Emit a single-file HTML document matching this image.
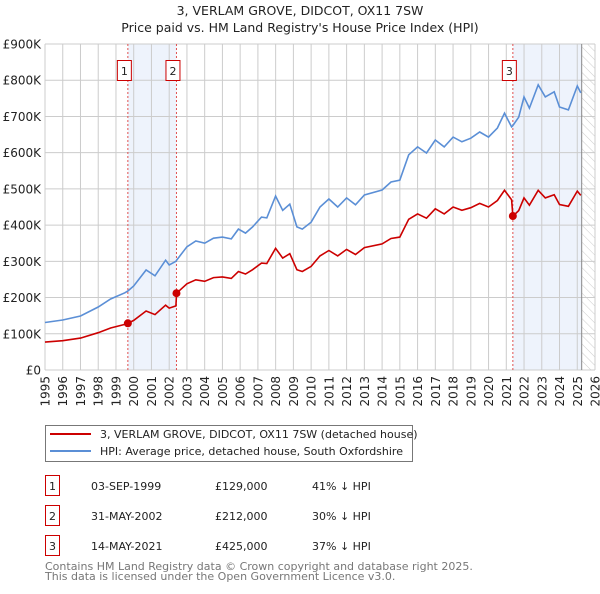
<!DOCTYPE html>
<html><head><meta charset="utf-8"><style>
body{margin:0;background:#fff;font-family:"DejaVu Sans","Liberation Sans",sans-serif;}
svg text{font-family:"DejaVu Sans","Liberation Sans",sans-serif;}
</style></head><body>
<svg id="chart" width="600" height="590" xmlns="http://www.w3.org/2000/svg">
<defs><pattern id="hatch" width="6" height="6" patternUnits="userSpaceOnUse" patternTransform="rotate(-45)"><line x1="0" y1="0" x2="0" y2="6" stroke="#ccc" stroke-width="1"/></pattern></defs>
<text x="300" y="15" text-anchor="middle" font-size="12.5" fill="#222">3, VERLAM GROVE, DIDCOT, OX11 7SW</text>
<text x="300" y="32" text-anchor="middle" font-size="12.5" fill="#222">Price paid vs. HM Land Registry's House Price Index (HPI)</text>
<g id="plot"></g>
<g>
<rect x="45.5" y="425.5" width="367" height="36" fill="#fff" stroke="#777"/>
<line x1="50" y1="434" x2="91" y2="434" stroke="#cc0000" stroke-width="2"/>
<text x="100" y="438" font-size="11" fill="#222">3, VERLAM GROVE, DIDCOT, OX11 7SW (detached house)</text>
<line x1="50" y1="451" x2="91" y2="451" stroke="#5b8fd6" stroke-width="2"/>
<text x="100" y="455" font-size="11" fill="#222">HPI: Average price, detached house, South Oxfordshire</text>
</g>
<g id="table"></g>
<text x="45" y="570" font-size="11" fill="#777">Contains HM Land Registry data © Crown copyright and database right 2025.</text>
<text x="45" y="580" font-size="11" fill="#777">This data is licensed under the Open Government Licence v3.0.</text>
</svg>
<script>
const hpiYears=[1995,1996,1997,1998,1998.7,1999.5,1999.67,2000,2000.7,2001.2,2001.8,2002,2002.38,2002.42,2003,2003.5,2004,2004.5,2005,2005.5,2005.9,2006.3,2006.7,2007.2,2007.5,2008,2008.4,2008.8,2009.2,2009.5,2010,2010.5,2011,2011.5,2012,2012.5,2013,2014,2014.5,2015,2015.5,2016,2016.5,2017,2017.5,2018,2018.5,2019,2019.5,2020,2020.5,2020.9,2021.3,2021.37,2021.7,2022,2022.3,2022.8,2023.2,2023.7,2024,2024.5,2025,2025.2];
const hpiValues=[131,138,149,174,196,213,218,232,276,260,303,290,300,303,340,356,350,364,367,362,389,378,395,422,420,480,441,458,395,389,408,450,472,450,475,456,483,497,519,524,594,616,599,635,616,643,630,640,657,643,668,709,671,675,698,754,723,787,754,768,726,718,784,765];
const priceValues=[77,81,88,103,116,126,129,137,163,153,179,171,177,212,238,249,245,255,257,253,272,265,277,295,294,336,309,321,277,272,286,315,330,315,333,319,338,348,363,367,416,431,419,445,431,450,441,448,460,450,468,496,470,425,440,475,455,496,475,484,457,452,494,482];
const saleLabels=["1","2","3"];
const saleYears=[1999.67,2002.41,2021.37];
const salePrices=[129,212,425];
const saleDates=["03-SEP-1999","31-MAY-2002","14-MAY-2021"];
const salePriceText=["£129,000","£212,000","£425,000"];
const salePct=["41% ↓ HPI","30% ↓ HPI","37% ↓ HPI"];
const yTicks=[0,100,200,300,400,500,600,700,800,900];
const yTickLabels=["£0","£100K","£200K","£300K","£400K","£500K","£600K","£700K","£800K","£900K"];
const xTicks=[1995,1996,1997,1998,1999,2000,2001,2002,2003,2004,2005,2006,2007,2008,2009,2010,2011,2012,2013,2014,2015,2016,2017,2018,2019,2020,2021,2022,2023,2024,2025,2026];
const dataEnd=2025.25;

const X0=45,X1=595,Y0=370,Y1=44;
const xs=y=>X0+(y-1995)/(2026-1995)*(X1-X0);
const ys=v=>Y0-v/900*(Y0-Y1);
const NS="http://www.w3.org/2000/svg";
const plot=document.getElementById('plot');
function mk(tag,attrs,parent){const e=document.createElementNS(NS,tag);for(const k in attrs)e.setAttribute(k,attrs[k]);(parent||plot).appendChild(e);return e;}

// shaded regions
let r=mk('rect',{x:xs(saleYears[0]),y:Y1,width:xs(saleYears[1])-xs(saleYears[0]),height:Y0-Y1,fill:'#eef3fc'});


r=mk('rect',{x:xs(saleYears[2]),y:Y1,width:xs(dataEnd)-xs(saleYears[2]),height:Y0-Y1,fill:'#eef3fc'});


r=mk('rect',{x:xs(dataEnd),y:Y1,width:X1-xs(dataEnd),height:Y0-Y1,fill:'url(#hatch)'});



// grid
yTicks.forEach((t,i)=>{
  const l=mk('line',{x1:X0,x2:X1,y1:ys(t),y2:ys(t),stroke:'#ccc','stroke-width':1});
  
  
  const tx=mk('text',{x:41,y:ys(t)+4.5,'text-anchor':'end','font-size':12,fill:'#222'});
  tx.textContent=yTickLabels[i];
  
  
});
xTicks.forEach(t=>{
  const l=mk('line',{x1:xs(t),x2:xs(t),y1:Y1,y2:Y0,stroke:'#ccc','stroke-width':1});
  
  
  const tx=mk('text',{x:0,y:0,'text-anchor':'end','font-size':12,fill:'#222',transform:`translate(${xs(t)+4.5},376) rotate(-90)`});
  tx.textContent=t;
  
  
});
r=mk('line',{x1:xs(dataEnd),x2:xs(dataEnd),y1:Y1,y2:Y0,stroke:'#888','stroke-width':1});



// sale vlines
saleYears.forEach((s,i)=>{
  const l=mk('line',{x1:xs(s),x2:xs(s),y1:Y1,y2:Y0,stroke:'#e05050','stroke-width':1,'stroke-dasharray':'2,2'});
  
  
});

// lines
const pts=v=>hpiYears.map((y,i)=>xs(y).toFixed(1)+','+ys(v[i]).toFixed(1)).join(' ');
r=mk('polyline',{points:pts(hpiValues),fill:'none',stroke:'#5b8fd6','stroke-width':1.6});


r=mk('polyline',{points:pts(priceValues),fill:'none',stroke:'#cc0000','stroke-width':1.6});



saleYears.forEach((s,i)=>{
  const c=mk('circle',{cx:xs(s),cy:ys(salePrices[i]),r:4,fill:'#cc0000'});
  
  
  const b=mk('rect',{x:xs(s)-10.5,y:60.5,width:14,height:20,fill:'#fff',stroke:'#cc0000'});
  
  
  const t=mk('text',{x:xs(s)-3.5,y:75,'text-anchor':'middle','font-size':11,fill:'#222'});
  t.textContent=saleLabels[i];
  
  
});

// table
const tb=document.getElementById('table');
saleLabels.forEach((lab,i)=>{
  const y0=476+i*30;
  const b=mk('rect',{x:45.5,y:y0-0.5,width:14,height:20,fill:'#fff',stroke:'#cc0000'},tb);
  
  
  const vals=[[lab,52.5,'middle'],[saleDates[i],91,'start'],[salePriceText[i],215,'start'],[salePct[i],312,'start']];
  vals.forEach(v=>{
    const t=mk('text',{x:v[1],y:y0+14,'text-anchor':v[2],'font-size':11,fill:'#222'},tb);
    t.textContent=v[0];
    
    
  });
});
</script>
</body></html>
